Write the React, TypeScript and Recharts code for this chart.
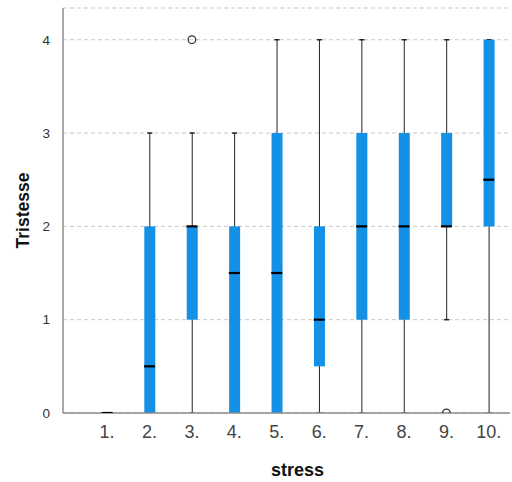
import React from 'react';
import { ComposedChart, Bar, Scatter, XAxis, YAxis, CartesianGrid } from 'recharts';

const categories = [1, 2, 3, 4, 5, 6, 7, 8, 9, 10];
const mins = [0, 0, 0, 0, 0, 0, 0, 0, 1, 0];
const q1s = [0, 0, 1, 0, 0, 0.5, 1, 1, 2, 2];
const medians = [0, 0.5, 2, 1.5, 1.5, 1, 2, 2, 2, 2.5];
const q3s = [0, 2, 2, 2, 3, 2, 3, 3, 3, 4];
const maxs = [0, 3, 3, 3, 4, 4, 4, 4, 4, 4];
const outlierX = [3, 9];
const outlierY = [4, 0];
const yTicks = [0, 1, 2, 3, 4];

const data = categories.map((c, i) => ({
  x: c,
  whisker: [mins[i], maxs[i]],
  box: [q1s[i], q3s[i]],
  med: medians[i],
}));
const outliers = outlierX.map((x, i) => ({ x, y: outlierY[i] }));

const FONT = '"Liberation Sans", Arial, sans-serif';
const BLUE = '#1490e6';

const WhiskerShape = (p: any) => {
  const { x, y, width, height } = p;
  if (x == null || y == null) return null;
  const cx = x + width / 2;
  const top = y;
  const bot = y + height;
  return (
    <g>
      <line x1={cx} x2={cx} y1={top} y2={bot} stroke="#222" strokeWidth={1} />
      <line x1={cx - 2.5} x2={cx + 2.5} y1={top} y2={top} stroke="#222" strokeWidth={1.5} />
      <line x1={cx - 2.5} x2={cx + 2.5} y1={bot} y2={bot} stroke="#222" strokeWidth={1.5} />
    </g>
  );
};

const BoxShape = (p: any) => {
  const { x, y, width, height } = p;
  if (x == null || y == null || !height) return null;
  return <rect x={x} y={y} width={width} height={height} fill={BLUE} />;
};

const MedianShape = (p: any) => {
  const { cx, cy } = p;
  return <line x1={cx - 5.5} x2={cx + 5.5} y1={cy} y2={cy} stroke="#000" strokeWidth={2.2} />;
};

const OutlierShape = (p: any) => {
  const { cx, cy } = p;
  return <circle cx={cx} cy={cy} r={3.8} fill="none" stroke="#333" strokeWidth={1.3} />;
};

export default function App() {
  return (
    <div style={{ position: 'absolute', left: 0, top: 0, background: '#fff' }}>
      <ComposedChart
        width={512}
        height={482}
        data={data}
        margin={{ top: 8, right: 2, left: 0, bottom: 0 }}
      >
        <CartesianGrid
          vertical={false}
          horizontal
          strokeDasharray="4 3"
          stroke="#c8c8c8"
          xAxisId="main"
        />
        <XAxis
          xAxisId="main"
          dataKey="x"
          type="number"
          domain={[-0.04, 10.5]}
          allowDataOverflow
          ticks={categories}
          tickFormatter={(v: number) => `${v}.`}
          interval={0}
          tickLine={false}
          axisLine={{ stroke: '#8c8c8c', strokeWidth: 1.5 }}
          tick={{ fill: '#444', fontSize: 18, fontFamily: FONT }}
          tickMargin={6}
          height={69}
          label={{
            value: 'stress',
            position: 'insideBottom',
            offset: 6,
            dx: 11,
            style: { fontFamily: FONT, fontWeight: 'bold', fontSize: 18, fill: '#111' },
          }}
        />
        <XAxis
          xAxisId="w"
          dataKey="x"
          type="number"
          domain={[-0.04, 10.5]}
          allowDataOverflow
          hide
        />
        <YAxis
          type="number"
          domain={[0, 4.34]}
          allowDataOverflow
          ticks={yTicks}
          interval={0}
          width={63}
          tickLine={false}
          axisLine={{ stroke: '#8c8c8c', strokeWidth: 1.5 }}
          tick={{ fill: '#333', fontSize: 13.5, fontFamily: FONT }}
          tickMargin={7}
          label={{
            value: 'Tristesse',
            angle: -90,
            position: 'insideLeft',
            offset: 23,
            style: { fontFamily: FONT, fontWeight: 'bold', fontSize: 17.5, fill: '#111', textAnchor: 'middle' },
          }}
        />
        <Bar
          xAxisId="w"
          dataKey="whisker"
          barSize={11}
          shape={WhiskerShape}
          isAnimationActive={false}
        />
        <Bar
          xAxisId="main"
          dataKey="box"
          barSize={11}
          shape={BoxShape}
          isAnimationActive={false}
        />
        <Scatter
          xAxisId="main"
          dataKey="med"
          shape={MedianShape}
          isAnimationActive={false}
        />
        <Scatter
          xAxisId="main"
          data={outliers}
          dataKey="y"
          shape={OutlierShape}
          isAnimationActive={false}
        />
      </ComposedChart>
    </div>
  );
}
